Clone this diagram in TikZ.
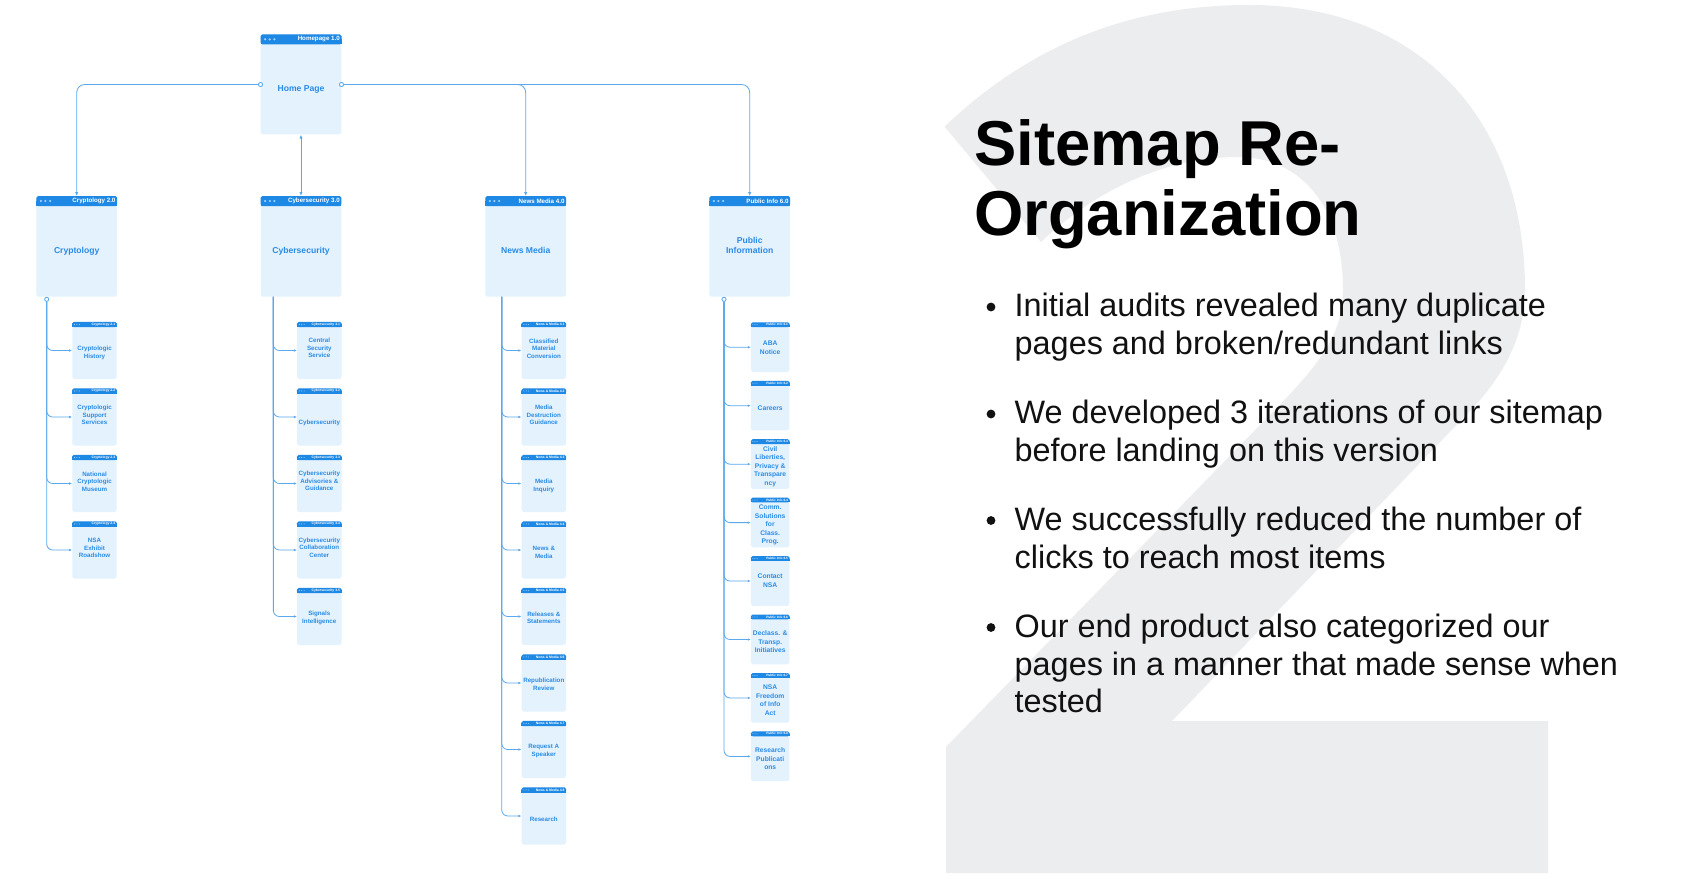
\documentclass[tikz,border=0pt]{standalone}
\usepackage{fontspec}
\setmainfont{Liberation Sans}
\usetikzlibrary{arrows.meta,calc}
\definecolor{hdr}{HTML}{1E88E5}
\definecolor{cardfill}{HTML}{E3F2FD}
\definecolor{cardtxt}{HTML}{2A8BE6}
\definecolor{linec}{HTML}{5AA9EE}
\definecolor{bgtwo}{HTML}{ECEDEF}
\definecolor{dotc}{HTML}{9FD0FA}
\definecolor{bodyblack}{HTML}{111111}

\def\drH{1.25}\def\dsH{4.6}
\def\drC{0.55}\def\dsC{2.4}
\def\drP{0.5}\def\dsP{2.1}
\def\bsh{0}

\newcommand\card[9]{%
  \node[cardbody, minimum width=#4pt, minimum height=#5pt, anchor=north] (#1) at (#2,#3) {};
  \fill[hdr, rounded corners=1.8pt] (#1.north west) rectangle ($(#1.north east)+(0,#6)$);
  \fill[hdr] ($(#1.north west)+(0,#6/2)$) rectangle ($(#1.north east)+(0,#6)$);
  \edef\cds{\csname ds#7\endcsname}\edef\cdr{\csname dr#7\endcsname}%
  \foreach \k in {1,2,3}{\fill[dotc] ($(#1.north west)+(\k*\cds,#6/2)$) circle (\cdr pt);}
  \node[hdrtxt#7, anchor=east] at ($(#1.north east)+(-1.5,#6/2)$) {#8};
  \node[bodytxt#7] at ($(#1.center)+(0,#6/2+\bsh)$) {#9};
  \gdef\bsh{0}%
}

\begin{document}
\begin{tikzpicture}[x=1pt,y=-1pt,
  cardbody/.style={fill=cardfill, rounded corners=1.8pt, inner sep=0pt, draw=none},
  hdrtxtH/.style={text=white, font=\bfseries\fontsize{6.2}{7}\selectfont, inner sep=0pt},
  bodytxtH/.style={text=cardtxt, font=\bfseries\fontsize{8.6}{10}\selectfont, align=center, inner sep=0pt},
  hdrtxtC/.style={text=white, font=\bfseries\fontsize{3.4}{4}\selectfont, inner sep=0pt},
  bodytxtC/.style={text=cardtxt, font=\bfseries\fontsize{6.2}{7.6}\selectfont, align=center, inner sep=0pt},
  hdrtxtP/.style={text=white, font=\bfseries\fontsize{3.2}{4}\selectfont, inner sep=0pt},
  bodytxtP/.style={text=cardtxt, font=\bfseries\fontsize{6.7}{8.6}\selectfont, align=center, inner sep=0pt},
  conn/.style={draw=linec, line width=0.8pt},
  arr/.style={-{Latex[length=4pt,width=3.4pt]}},
  carr/.style={-{Latex[length=3pt,width=2.6pt]}},
  odot/.style={circle, draw=linec, fill=white, line width=0.7pt, inner sep=0pt, minimum size=4pt},
  titletxt/.style={font=\bfseries\fontsize{63.4}{70}\selectfont, text=black, inner sep=0pt},
  bultxt/.style={font=\fontsize{32.4}{38}\selectfont, text=bodyblack, inner sep=0pt, anchor=base west}
]
\useasboundingbox (0,0) rectangle (1682,880);
\fill[white] (0,0) rectangle (1682,880);

% big background "2"
\fill[bgtwo] (944.6,126.7) .. controls (1030,45) and (1130,5) .. (1249,5)
  .. controls (1420,5) and (1525,120) .. (1525,290)
  .. controls (1525,340) and (1500,380) .. (1468,413)
  -- (1172,721) -- (1548,721) -- (1548,873) -- (946,873) -- (946,747)
  -- (1262,423)
  .. controls (1320,365) and (1343,335) .. (1343,290)
  .. controls (1343,205) and (1300,157) .. (1238,157)
  .. controls (1160,157) and (1090,195) .. (1041,242) -- cycle;

% title and bullets
\node[titletxt, anchor=base west] (t1) at (974,165.5) {Sitemap Re-};
\node[titletxt, anchor=base west] (t2) at (974,235.5) {Organization};

\foreach \yy in {316.5,423.5,530,637}{
  \fill[bodyblack] (991,\yy-9.5) circle (4.4pt);
}
\node[bultxt] (l1) at (1014.5,316.5) {Initial audits revealed many duplicate};
\node[bultxt] (l2) at (1014.5,354.5) {pages and broken/redundant links};
\node[bultxt] (l3) at (1014.5,423.5) {We developed 3 iterations of our sitemap};
\node[bultxt] (l4) at (1014.5,461.5) {before landing on this version};
\node[bultxt] (l5) at (1014.5,530) {We successfully reduced the number of};
\node[bultxt] (l6) at (1014.5,568) {clicks to reach most items};
\node[bultxt] (l7) at (1014.5,637) {Our end product also categorized our};
\node[bultxt] (l8) at (1014.5,675) {pages in a manner that made sense when};
\node[bultxt] (l9) at (1014.5,712.5) {tested};

% top levels
\card{home}{301}{34.3}{80.6}{100}{10}{H}{Homepage 1.0}{Home Page}
\card{cry}{76.7}{196}{80.5}{100.5}{10}{H}{Cryptology 2.0}{Cryptology}
\card{cyb}{301}{196}{80.5}{100.5}{10}{H}{Cybersecurity 3.0}{Cybersecurity}
\def\bsh{-1.5}
\card{news}{525.7}{196}{80.5}{100.5}{10}{H}{News Media 4.0}{News Media}
\def\bsh{-6}
\card{pub}{749.7}{196}{80.5}{100.5}{10}{H}{Public Info 6.0}{Public\\Information}

% Cryptology children
\card{c1}{94.5}{321.8}{44.4}{57}{5.3}{C}{Cryptology 2.1}{Cryptologic\\History}
\def\bsh{-4.5}
\card{c2}{94.5}{388.3}{44.4}{57}{5.3}{C}{Cryptology 2.2}{Cryptologic\\Support\\Services}
\def\bsh{-4.5}
\card{c3}{94.5}{454.8}{44.4}{57}{5.3}{C}{Cryptology 2.3}{National\\Cryptologic\\Museum}
\def\bsh{-4.5}
\card{c4}{94.5}{521.3}{44.4}{57}{5.3}{C}{Cryptology 2.4}{NSA\\Exhibit\\Roadshow}

% Cybersecurity children
\def\bsh{-5}
\card{s1}{319.3}{321.8}{44.4}{57}{5.3}{C}{Cybersecurity 3.1}{Central\\Security\\Service}
\def\bsh{3}
\card{s2}{319.3}{388.3}{44.4}{57}{5.3}{C}{Cybersecurity 3.2}{Cybersecurity}
\def\bsh{-5}
\card{s3}{319.3}{454.8}{44.4}{57}{5.3}{C}{Cybersecurity 3.3}{Cybersecurity\\Advisories \&\\Guidance}
\def\bsh{-5}
\card{s4}{319.3}{521.3}{44.4}{57}{5.3}{C}{Cybersecurity 3.4}{Cybersecurity\\Collaboration\\Center}
\def\bsh{-1}
\card{s5}{319.3}{587.8}{44.4}{57}{5.3}{C}{Cybersecurity 3.5}{Signals\\Intelligence}

% News Media children
\def\bsh{-4.5}
\card{n1}{543.8}{321.8}{44.4}{57}{5.3}{C}{News \& Media 4.1}{Classified\\Material\\Conversion}
\def\bsh{-4.5}
\card{n2}{543.8}{388.3}{44.4}{57}{5.3}{C}{News \& Media 4.2}{Media\\Destruction\\Guidance}
\card{n3}{543.8}{454.8}{44.4}{57}{5.3}{C}{News \& Media 4.3}{Media\\Inquiry}
\card{n4}{543.8}{521.3}{44.4}{57}{5.3}{C}{News \& Media 4.4}{News \&\\Media}
\def\bsh{-1.5}
\card{n5}{543.8}{587.8}{44.4}{57}{5.3}{C}{News \& Media 4.5}{Releases \&\\Statements}
\def\bsh{-1.5}
\card{n6}{543.8}{654.3}{44.4}{57}{5.3}{C}{News \& Media 4.6}{Republication\\Review}
\def\bsh{-1}
\card{n7}{543.8}{720.8}{44.4}{57}{5.3}{C}{News \& Media 4.7}{Request A\\Speaker}
\def\bsh{1}
\card{n8}{543.8}{787.3}{44.4}{57}{5.3}{C}{News \& Media 4.8}{Research}

% Public Info children
\def\bsh{-2}
\card{p1}{770.2}{322.3}{38.5}{49.5}{4.8}{P}{Public Info 6.1}{ABA\\Notice}
\card{p2}{770.2}{380.75}{38.5}{49.5}{4.8}{P}{Public Info 6.2}{Careers}
\card{p3}{770.2}{439.2}{38.5}{49.5}{4.8}{P}{Public Info 6.3}{Civil\\Liberties,\\Privacy \&\\Transpare\\ncy}
\card{p4}{770.2}{497.65}{38.5}{49.5}{4.8}{P}{Public Info 6.4}{Comm.\\Solutions\\for\\Class.\\Prog.}
\def\bsh{-3}
\card{p5}{770.2}{556.1}{38.5}{49.5}{4.8}{P}{Public Info 6.5}{Contact\\NSA}
\card{p6}{770.2}{614.55}{38.5}{49.5}{4.8}{P}{Public Info 6.6}{Declass. \&\\Transp.\\Initiatives}
\card{p7}{770.2}{673}{38.5}{49.5}{4.8}{P}{Public Info 6.7}{NSA\\Freedom\\of Info\\Act}
\card{p8}{770.2}{731.45}{38.5}{49.5}{4.8}{P}{Public Info 6.8}{Research\\Publicati\\ons}

% main connectors
\node[odot] (hL) at (home.west) {};
\node[odot] (hR) at (home.east) {};
\draw[conn,arr,rounded corners=8pt] (hL.west) -| (cry.north);
\draw[conn,arr,rounded corners=8pt] (hR.east) -| (news.north);
\draw[conn,arr,rounded corners=8pt] (hR.east) -| (pub.north);
\draw[conn,{Latex[length=4pt,width=3.4pt]}-{Latex[length=4pt,width=3.4pt]}] (cyb.north) -- (home.south);

% trunks
\node[odot] (cryT) at (46.7,299.3) {};
\node[odot] (pubT) at (724,299.3) {};
\coordinate (cybT) at ($(cyb.south west)+(12.8,0)$);
\coordinate (newsT) at ($(news.south west)+(16.5,0)$);

\foreach \c in {c1,c2,c3,c4}{\draw[conn,carr,rounded corners=6pt] (cryT.south) |- (\c.west);}
\foreach \c in {s1,s2,s3,s4,s5}{\draw[conn,carr,rounded corners=6pt] (cybT) |- (\c.west);}
\foreach \c in {n1,n2,n3,n4,n5,n6,n7,n8}{\draw[conn,carr,rounded corners=6pt] (newsT) |- (\c.west);}
\foreach \c in {p1,p2,p3,p4,p5,p6,p7,p8}{\draw[conn,carr,rounded corners=6pt] (pubT.south) |- (\c.west);}
\node[odot] at (cryT) {};
\node[odot] at (pubT) {};
\node[odot] at (hL) {};
\node[odot] at (hR) {};
\end{tikzpicture}
\end{document}
